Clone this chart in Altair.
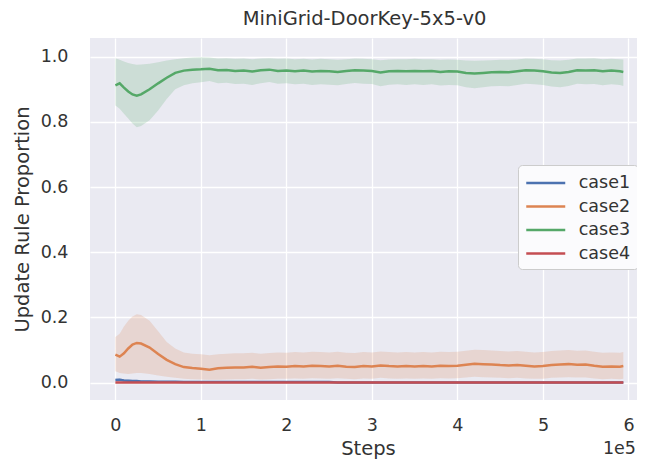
import altair as alt
import pandas as pd

# ---- data (steps in units of 1e5) ----
steps_1e5 = [0, 0.05, 0.1, 0.15, 0.2, 0.25, 0.3, 0.4, 0.5, 0.6, 0.7, 0.8, 0.9, 1.0,
             1.1, 1.2, 1.3, 1.4, 1.5, 1.6, 1.7, 1.8, 1.9, 2.0, 2.1, 2.2, 2.3, 2.4, 2.5,
             2.6, 2.7, 2.8, 2.9, 3.0, 3.1, 3.2, 3.3, 3.4, 3.5, 3.6, 3.7, 3.8, 3.9, 4.0,
             4.1, 4.2, 4.3, 4.4, 4.5, 4.6, 4.7, 4.8, 4.9, 5.0, 5.1, 5.2, 5.3, 5.4, 5.5,
             5.6, 5.7, 5.8, 5.9, 5.94]

cases = ["case1", "case2", "case3", "case4"]
colors = ["#4C72B0", "#DD8452", "#55A868", "#C44E52"]

case1_mean = [0.008, 0.009, 0.007, 0.006, 0.005, 0.005, 0.004, 0.004, 0.003, 0.003, 0.003, 0.002, 0.002, 0.002,
              0.002, 0.002, 0.002, 0.002, 0.002, 0.002, 0.002, 0.002, 0.002, 0.002, 0.002, 0.002, 0.002, 0.002, 0.002,
              0.001, 0.001, 0.001, 0.001, 0.001, 0.001, 0.001, 0.001, 0.001, 0.001, 0.001, 0.001, 0.001, 0.001, 0.001,
              0.001, 0.001, 0.001, 0.001, 0.001, 0.001, 0.001, 0.001, 0.001, 0.001, 0.001, 0.001, 0.001, 0.001, 0.001,
              0.001, 0.001, 0.001, 0.001, 0.001]
case1_low = [0.004, 0.005, 0.004, 0.003, 0.002, 0.002, 0.002, 0.002, 0.001, 0.001, 0.001, 0.001, 0.001, 0.001,
             0.001, 0.001, 0.001, 0.001, 0.001, 0.001, 0.001, 0.001, 0.001, 0.001, 0.001, 0.001, 0.001, 0.001, 0.001,
             0.000, 0.000, 0.000, 0.000, 0.000, 0.000, 0.000, 0.000, 0.000, 0.000, 0.000, 0.000, 0.000, 0.000, 0.000,
             0.000, 0.000, 0.000, 0.000, 0.000, 0.000, 0.000, 0.000, 0.000, 0.000, 0.000, 0.000, 0.000, 0.000, 0.000,
             0.000, 0.000, 0.000, 0.000, 0.000]
case1_high = [0.013, 0.014, 0.011, 0.010, 0.008, 0.008, 0.007, 0.006, 0.005, 0.005, 0.005, 0.004, 0.004, 0.004,
              0.004, 0.004, 0.004, 0.004, 0.004, 0.003, 0.003, 0.003, 0.003, 0.003, 0.003, 0.003, 0.003, 0.003, 0.003,
              0.002, 0.002, 0.002, 0.002, 0.002, 0.002, 0.002, 0.002, 0.002, 0.002, 0.002, 0.002, 0.002, 0.002, 0.002,
              0.002, 0.002, 0.002, 0.002, 0.002, 0.002, 0.002, 0.002, 0.002, 0.002, 0.002, 0.002, 0.002, 0.002, 0.002,
              0.002, 0.002, 0.002, 0.002, 0.002]

case2_mean = [0.086, 0.080, 0.090, 0.105, 0.117, 0.122, 0.120, 0.108, 0.088, 0.070, 0.057, 0.048, 0.045, 0.043,
              0.040, 0.044, 0.046, 0.047, 0.047, 0.049, 0.046, 0.048, 0.050, 0.049, 0.051, 0.050, 0.052, 0.051, 0.050,
              0.052, 0.049, 0.048, 0.051, 0.050, 0.053, 0.051, 0.050, 0.051, 0.050, 0.051, 0.050, 0.052, 0.051, 0.052,
              0.055, 0.058, 0.057, 0.056, 0.054, 0.053, 0.054, 0.052, 0.050, 0.051, 0.054, 0.056, 0.057, 0.055, 0.056,
              0.052, 0.049, 0.050, 0.049, 0.051]
case2_low = [0.035, 0.030, 0.028, 0.027, 0.028, 0.030, 0.030, 0.027, 0.022, 0.018, 0.015, 0.012, 0.011, 0.010,
             0.009, 0.009, 0.010, 0.011, 0.011, 0.012, 0.010, 0.011, 0.012, 0.012, 0.013, 0.012, 0.014, 0.013, 0.012,
             0.014, 0.012, 0.011, 0.013, 0.012, 0.015, 0.013, 0.012, 0.013, 0.012, 0.013, 0.012, 0.014, 0.013, 0.014,
             0.016, 0.018, 0.017, 0.016, 0.015, 0.014, 0.015, 0.013, 0.012, 0.012, 0.015, 0.016, 0.017, 0.016, 0.016,
             0.013, 0.011, 0.012, 0.011, 0.012]
case2_high = [0.140, 0.150, 0.172, 0.190, 0.203, 0.210, 0.208, 0.190, 0.158, 0.125, 0.105, 0.093, 0.089, 0.087,
              0.084, 0.087, 0.089, 0.090, 0.090, 0.092, 0.089, 0.091, 0.093, 0.092, 0.094, 0.093, 0.095, 0.094, 0.093,
              0.095, 0.092, 0.091, 0.094, 0.093, 0.096, 0.094, 0.093, 0.094, 0.093, 0.094, 0.093, 0.095, 0.094, 0.095,
              0.098, 0.101, 0.100, 0.099, 0.097, 0.096, 0.097, 0.095, 0.093, 0.094, 0.097, 0.099, 0.100, 0.098, 0.099,
              0.095, 0.092, 0.093, 0.092, 0.094]

case3_mean = [0.912, 0.918, 0.905, 0.893, 0.884, 0.880, 0.884, 0.900, 0.918, 0.935, 0.950, 0.957, 0.960, 0.961,
              0.963, 0.958, 0.959, 0.956, 0.957, 0.954, 0.958, 0.960, 0.956, 0.957, 0.955, 0.957, 0.954, 0.956, 0.955,
              0.953, 0.956, 0.958, 0.957, 0.956, 0.951, 0.955, 0.956, 0.955, 0.956, 0.955, 0.956, 0.953, 0.955, 0.954,
              0.950, 0.948, 0.950, 0.952, 0.953, 0.952, 0.955, 0.958, 0.957, 0.955, 0.951, 0.950, 0.953, 0.958, 0.957,
              0.958, 0.955, 0.957, 0.955, 0.953]
case3_low = [0.850, 0.840, 0.825, 0.810, 0.795, 0.783, 0.787, 0.805, 0.835, 0.870, 0.900, 0.912, 0.918, 0.921,
             0.925, 0.918, 0.920, 0.916, 0.917, 0.913, 0.918, 0.922, 0.917, 0.918, 0.915, 0.917, 0.913, 0.915, 0.914,
             0.912, 0.916, 0.919, 0.917, 0.916, 0.909, 0.914, 0.915, 0.913, 0.915, 0.913, 0.915, 0.911, 0.913, 0.912,
             0.906, 0.903, 0.906, 0.909, 0.910, 0.909, 0.913, 0.917, 0.915, 0.913, 0.908, 0.906, 0.910, 0.917, 0.915,
             0.916, 0.912, 0.915, 0.913, 0.910]
case3_high = [0.995, 0.990, 0.985, 0.980, 0.977, 0.975, 0.976, 0.978, 0.983, 0.988, 0.992, 0.995, 0.997, 0.998,
              0.997, 0.994, 0.995, 0.993, 0.994, 0.992, 0.994, 0.995, 0.993, 0.994, 0.992, 0.993, 0.991, 0.993, 0.992,
              0.990, 0.992, 0.994, 0.993, 0.992, 0.989, 0.991, 0.992, 0.992, 0.993, 0.992, 0.992, 0.990, 0.991, 0.990,
              0.988, 0.987, 0.988, 0.989, 0.990, 0.990, 0.991, 0.994, 0.993, 0.992, 0.989, 0.988, 0.990, 0.994, 0.994,
              0.995, 0.992, 0.993, 0.992, 0.991]

case4_mean = [0.001] * 64
case4_low = [0.000] * 64
case4_high = [0.002] * 64

x_ticks = [0, 100000, 200000, 300000, 400000, 500000, 600000]
y_ticks = [0.0, 0.2, 0.4, 0.6, 0.8, 1.0]

series = {
    "case1": (case1_mean, case1_low, case1_high),
    "case2": (case2_mean, case2_low, case2_high),
    "case3": (case3_mean, case3_low, case3_high),
    "case4": (case4_mean, case4_low, case4_high),
}
rows = []
for c in cases:
    m, lo, hi = series[c]
    for s, a, b, d in zip(steps_1e5, m, lo, hi):
        rows.append({"case": c, "step": s * 1e5, "mean": a, "lo": b, "hi": d})
df = pd.DataFrame(rows)

FONT = "DejaVu Sans"
TXT = "#333333"

xscale = alt.Scale(domain=[-29700, 610000], nice=False, zero=False)
yscale = alt.Scale(domain=[-0.053, 1.057], nice=False, zero=False)
cscale = alt.Scale(domain=cases, range=colors)

xax = alt.Axis(values=x_ticks, labelExpr="format(datum.value / 100000, 'd')", title="Steps",
               titleX=278, labelPadding=16, titlePadding=6)
yax = alt.Axis(values=y_ticks, format=".1f", title="Update Rule Proportion",
               labelPadding=22, titlePadding=8)

legend = alt.Legend(
    title=None, orient="none", legendX=428, legendY=127,
    symbolType="M-2,0H2", symbolSize=380, symbolStrokeWidth=2.5,
    symbolOpacity=1, symbolOffset=9.75, symbolFillColor="transparent",
    labelFontSize=17.5, labelFont=FONT, labelColor=TXT,
    fillColor="#FBFBFD", strokeColor="#CCCCCC", padding=7,
    cornerRadius=4, rowPadding=3.5, labelOffset=22)

base = alt.Chart(df)
bands = base.mark_area(opacity=0.2, clip=True).encode(
    x=alt.X("step:Q", scale=xscale, axis=xax),
    y=alt.Y("lo:Q", scale=yscale, axis=yax),
    y2="hi:Q",
    color=alt.Color("case:N", scale=cscale, legend=legend),
)
lines = base.mark_line(strokeWidth=2.5, clip=True).encode(
    x=alt.X("step:Q", scale=xscale, axis=xax),
    y=alt.Y("mean:Q", scale=yscale, axis=yax),
    color=alt.Color("case:N", scale=cscale, legend=legend),
)
offset_label = alt.Chart(pd.DataFrame({"t": ["1e5"]})).mark_text(
    align="right", baseline="middle", font=FONT, fontSize=17.5, color=TXT
).encode(text="t:N", x=alt.value(546), y=alt.value(411))

chart = alt.layer(bands, lines, offset_label).properties(
    width=547, height=362,
    title=alt.TitleParams("MiniGrid-DoorKey-5x5-v0", font=FONT, fontSize=19.5,
                          fontWeight="normal", color=TXT, offset=9, dx=1),
    autosize=alt.AutoSizeParams(type="none"),
    padding={"left": 82, "top": 30, "right": 0, "bottom": 62},
).configure_view(fill="#EAEAF2", stroke=None).configure_axis(
    gridColor="#FFFFFF", gridWidth=1.3, domain=False, ticks=False,
    labelFont=FONT, titleFont=FONT, labelFontSize=17.5, titleFontSize=19.5,
    labelColor=TXT, titleColor=TXT, titleFontWeight="normal",
)

chart.save("out.html", embed_options={"renderer": "svg", "actions": False})
